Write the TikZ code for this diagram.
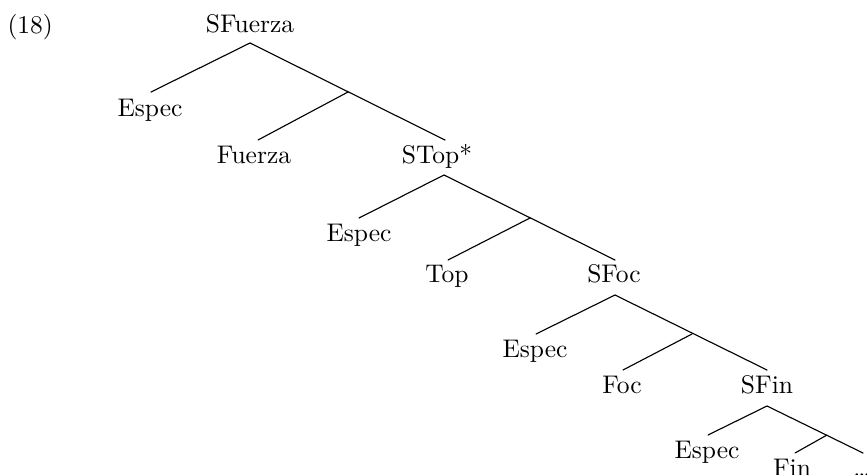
\documentclass[tikz,border=0pt]{standalone}
\begin{document}
\begin{tikzpicture}[x=0.4pt,y=-0.4pt,
  lbl/.style={anchor=base,inner sep=0pt,font=\fontsize{10.2}{12}\selectfont},
  branch/.style={line width=0.45pt,line cap=round}]
\useasboundingbox (0,0) rectangle (867,474);
\clip (0,0) rectangle (867,474);
% example number
\node[lbl,anchor=base west] (num) at (7,33) {(18)};
% labels
\node[lbl] (sfuerza) at (250,32) {SFuerza};
\node[lbl] (espec1) at (150,116) {Espec};
\node[lbl] (fuerza) at (254,163) {Fuerza};
\node[lbl] (stop) at (437,163) {STop*};
\node[lbl] (espec2) at (359,241) {Espec};
\node[lbl] (top) at (447,282) {Top};
\node[lbl] (sfoc) at (614,282) {SFoc};
\node[lbl] (espec3) at (535,357) {Espec};
\node[lbl] (foc) at (622,393) {Foc};
\node[lbl] (sfin) at (767,393) {SFin};
\node[lbl] (espec4) at (707,458) {Espec};
\node[lbl] (fin) at (792,476) {Fin};
\node[lbl] (rest) at (862,476) {\ldots};
% attachment points
\coordinate (sfuerza-d) at (250,43);
\coordinate (espec1-u) at (151,92);
\coordinate (bar1) at (348,92);
\coordinate (fuerza-u) at (258,140);
\coordinate (stop-u) at (445,140);
\coordinate (stop-d) at (444,175);
\coordinate (espec2-u) at (359,218);
\coordinate (bar2) at (530,218);
\coordinate (top-u) at (448,260);
\coordinate (sfoc-u) at (615,260);
\coordinate (sfoc-d) at (615,295);
\coordinate (espec3-u) at (536,334);
\coordinate (bar3) at (692,334);
\coordinate (foc-u) at (623,370);
\coordinate (sfin-u) at (767,370);
\coordinate (sfin-d) at (767,406);
\coordinate (espec4-u) at (708,435);
\coordinate (bar4) at (827,435);
\coordinate (fin-u) at (795,453);
\coordinate (rest-u) at (863,453);
% branches
\draw[branch] (espec1-u) -- (sfuerza-d) -- (stop-u);
\draw[branch] (bar1) -- (fuerza-u);
\draw[branch] (espec2-u) -- (stop-d) -- (sfoc-u);
\draw[branch] (bar2) -- (top-u);
\draw[branch] (espec3-u) -- (sfoc-d) -- (sfin-u);
\draw[branch] (bar3) -- (foc-u);
\draw[branch] (espec4-u) -- (sfin-d) -- (rest-u);
\draw[branch] (bar4) -- (fin-u);
\end{tikzpicture}
\end{document}
